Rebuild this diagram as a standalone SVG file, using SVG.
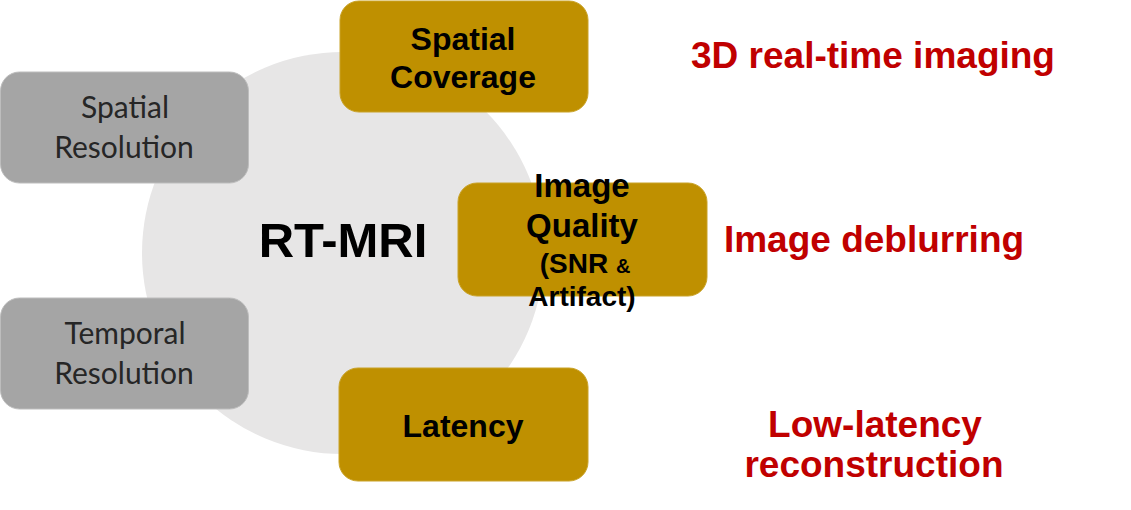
<svg xmlns="http://www.w3.org/2000/svg" width="1131" height="510" viewBox="0 0 1131 510">
<style>
.gold{fill:#BF9000;stroke:#C9A227;stroke-width:1}
.gray{fill:#A5A5A5;stroke:#BDBDBD;stroke-width:1}
.bt{font-family:"Liberation Sans",Arial,sans-serif;font-weight:bold;fill:#000;text-anchor:middle}
.gt{font-family:Lato,"Open Sans",sans-serif;fill:#262626;text-anchor:middle;font-size:30px}
.rt{font-family:"Liberation Sans",Arial,sans-serif;font-weight:bold;fill:#C00000;text-anchor:middle;font-size:37px}
</style>
<rect width="1131" height="510" fill="#fff"/>
<g id="hub">
<circle cx="343" cy="253" r="201" fill="#E7E6E6"/>
<text class="bt" x="343" y="257" font-size="49">RT-MRI</text>
</g>
<g id="connectors"></g>
<g id="spatial-resolution">
<rect class="gray" x="0.5" y="72" width="248" height="111" rx="19"/>
<text class="gt" x="125" y="118">Spatial</text>
<text class="gt" x="124" y="158">Resolution</text>
</g>
<g id="temporal-resolution">
<rect class="gray" x="0.5" y="298" width="248" height="111" rx="19"/>
<text class="gt" x="125" y="344">Temporal</text>
<text class="gt" x="124" y="384">Resolution</text>
</g>
<g id="spatial-coverage">
<rect class="gold" x="340" y="1" width="248" height="111" rx="19"/>
<text class="bt" x="463" y="50" font-size="32">Spatial</text>
<text class="bt" x="463" y="88" font-size="32">Coverage</text>
</g>
<g id="image-quality">
<rect class="gold" x="458" y="183" width="249" height="113" rx="19"/>
<text class="bt" x="582" y="197" font-size="33">Image</text>
<text class="bt" x="582" y="237" font-size="33">Quality</text>
<text class="bt" x="585" y="273" font-size="28">(SNR <tspan font-size="20">&amp;</tspan></text>
<text class="bt" x="582" y="306" font-size="28">Artifact)</text>
</g>
<g id="latency">
<rect class="gold" x="339" y="368" width="249" height="113" rx="19"/>
<text class="bt" x="463" y="437" font-size="32">Latency</text>
</g>
<g id="outcomes">
<text class="rt" x="873" y="68">3D real-time imaging</text>
<text class="rt" x="874" y="252">Image deblurring</text>
<text class="rt" x="875" y="437">Low-latency</text>
<text class="rt" x="874" y="477">reconstruction</text>
</g>
</svg>
